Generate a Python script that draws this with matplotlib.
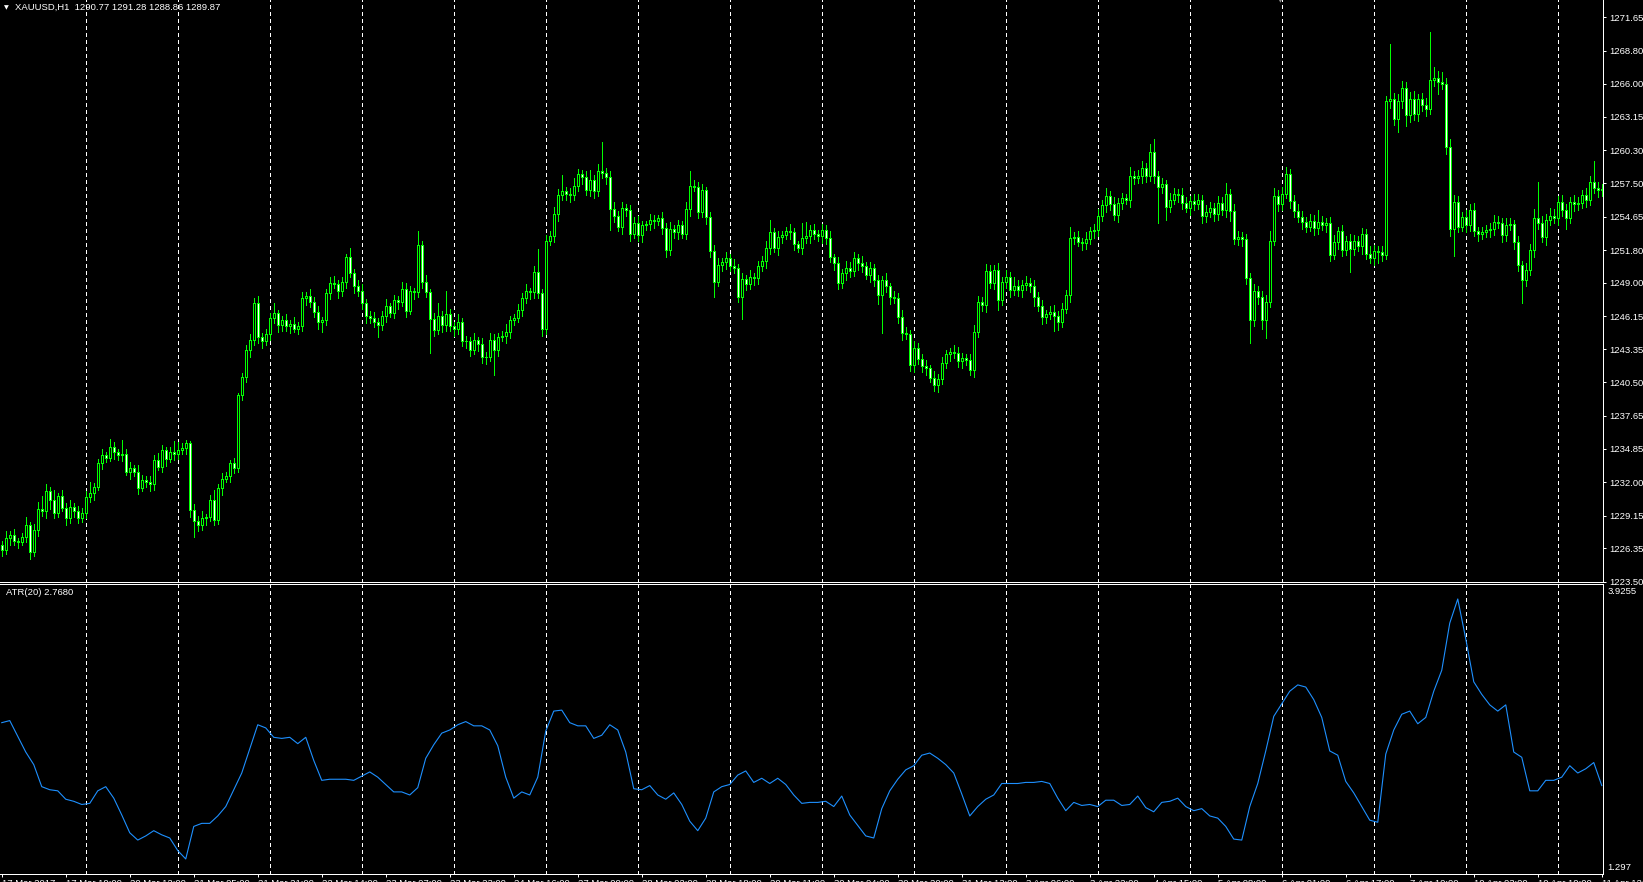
"""XAUUSD H1 ローソク足とATR(20)をMT4風に描くスクリプト"""

import numpy as np
import matplotlib
matplotlib.use("Agg")
import matplotlib.pyplot as plt

# ---終値 (1時間足, 401本)---
closes = [
    1226.2, 1227.2, 1227.5, 1227.0, 1226.9, 1227.3, 1228.3, 1226.0, 1227.9, 1229.7,
    1229.5, 1231.2, 1230.5, 1229.4, 1230.8, 1229.8, 1228.9, 1229.9, 1229.5, 1228.9,
    1229.4, 1230.7, 1231.1, 1231.6, 1233.6, 1234.3, 1234.1, 1235.0, 1234.6, 1234.3,
    1234.4, 1232.9, 1233.2, 1232.9, 1231.5, 1232.2, 1232.0, 1231.8, 1233.9, 1233.3,
    1234.7, 1234.0, 1234.6, 1234.4, 1234.7, 1234.9, 1235.3, 1229.6, 1228.7, 1228.3,
    1228.9, 1229.0, 1230.5, 1228.8, 1231.5, 1232.3, 1232.5, 1233.6, 1233.2, 1239.4,
    1241.0, 1243.3, 1244.1, 1247.3, 1244.4, 1244.0, 1244.6, 1246.0, 1246.4, 1245.4,
    1245.8, 1245.3, 1245.5, 1245.1, 1245.3, 1247.7, 1247.9, 1247.4, 1246.5, 1245.7,
    1245.8, 1248.1, 1249.0, 1248.9, 1248.3, 1249.1, 1251.2, 1249.8, 1248.7, 1248.3,
    1247.3, 1246.2, 1246.0, 1245.7, 1245.4, 1246.2, 1247.0, 1246.4, 1247.5, 1247.4,
    1248.5, 1246.6, 1248.3, 1248.2, 1252.2, 1249.1, 1248.2, 1245.9, 1245.0, 1246.2,
    1245.4, 1246.3, 1245.3, 1245.1, 1245.7, 1244.0, 1244.0, 1243.3, 1244.1, 1243.8,
    1242.7, 1242.7, 1244.1, 1243.3, 1244.4, 1244.5, 1244.8, 1245.8, 1246.0, 1246.7,
    1247.7, 1248.3, 1248.2, 1249.9, 1248.1, 1245.1, 1252.6, 1253.0, 1254.9, 1256.5,
    1256.8, 1256.6, 1256.5, 1257.3, 1258.3, 1258.0, 1256.9, 1257.8, 1256.8, 1258.5,
    1258.4, 1258.0, 1255.3, 1254.7, 1253.8, 1255.4, 1255.2, 1253.2, 1254.1, 1253.1,
    1253.9, 1254.0, 1254.4, 1254.3, 1254.5, 1253.7, 1251.8, 1253.6, 1253.3, 1253.9,
    1253.2, 1255.3, 1257.3, 1257.2, 1255.0, 1256.9, 1254.6, 1251.7, 1249.1, 1250.5,
    1250.8, 1251.1, 1250.4, 1250.3, 1247.8, 1249.3, 1248.9, 1249.5, 1249.4, 1250.4,
    1250.9, 1252.0, 1253.3, 1252.0, 1252.9, 1253.1, 1253.4, 1253.3, 1252.3, 1252.0,
    1252.8, 1253.0, 1253.5, 1253.2, 1253.0, 1253.5, 1252.8, 1251.2, 1250.7, 1249.0,
    1249.8, 1250.3, 1250.0, 1251.1, 1250.7, 1250.4, 1249.7, 1250.3, 1249.2, 1248.0,
    1249.2, 1248.7, 1247.8, 1247.7, 1246.1, 1244.7, 1244.6, 1242.0, 1243.4, 1242.5,
    1241.9, 1241.7, 1240.9, 1240.3, 1240.8, 1242.2, 1242.9, 1243.1, 1243.0, 1242.3,
    1242.6, 1242.4, 1241.6, 1244.8, 1247.4, 1247.1, 1250.0, 1249.0, 1250.1, 1247.5,
    1249.1, 1249.5, 1248.4, 1248.7, 1248.4, 1248.8, 1249.0, 1248.7, 1247.8, 1247.0,
    1246.1, 1246.3, 1246.5, 1246.2, 1245.7, 1246.8, 1248.0, 1252.8, 1252.9, 1252.5,
    1252.4, 1252.7, 1253.4, 1253.5, 1254.7, 1255.6, 1256.4, 1255.7, 1254.8, 1255.8,
    1256.2, 1256.1, 1258.1, 1257.9, 1258.1, 1258.8, 1258.1, 1260.2, 1258.1, 1257.2,
    1257.4, 1255.5, 1256.1, 1256.6, 1256.5, 1255.8, 1255.4, 1256.0, 1255.7, 1256.1,
    1254.7, 1255.0, 1255.4, 1254.9, 1255.8, 1255.2, 1256.6, 1255.1, 1252.7, 1252.9,
    1252.7, 1249.4, 1245.8, 1248.3, 1247.8, 1245.8, 1247.4, 1252.6, 1256.4, 1255.7,
    1256.6, 1258.3, 1256.0, 1255.1, 1254.6, 1254.2, 1253.8, 1254.3, 1253.7, 1254.2,
    1253.9, 1254.1, 1251.4, 1252.5, 1253.4, 1251.8, 1252.6, 1251.9, 1252.6, 1252.1,
    1253.2, 1251.5, 1251.1, 1251.7, 1251.6, 1251.4, 1264.5, 1264.7, 1263.0, 1264.5,
    1265.6, 1263.3, 1264.7, 1263.4, 1264.7, 1264.2, 1263.8, 1266.3, 1266.5, 1266.1,
    1266.0, 1260.6, 1253.6, 1255.9, 1253.8, 1254.6, 1253.9, 1255.2, 1253.4, 1253.2,
    1253.3, 1253.5, 1253.6, 1254.2, 1254.1, 1253.1, 1253.9, 1254.0, 1252.5, 1250.5,
    1249.2, 1250.1, 1251.8, 1254.5, 1254.1, 1252.9, 1254.4, 1254.7, 1254.5, 1255.9,
    1255.2, 1254.5, 1255.9, 1255.7, 1255.8, 1256.5, 1256.1, 1257.6, 1257.1, 1256.9,
    1257.0,
]
first_open = 1226.6

# ---上ヒゲ・下ヒゲの長さ---
upper_wick = [
    0.4, 0.6, 0.3, 0.5, 0.2, 0.4, 0.7, 0.3, 0.5, 0.6, 1.1, 0.6, 0.4, 0.8, 0.3, 0.5, 0.4, 0.6, 0.3, 0.5,
    0.4, 0.5, 0.9, 0.3, 0.4, 0.5, 0.3, 0.7, 0.4, 0.2, 1.2, 0.4, 0.5, 0.3, 0.6, 0.4, 0.3, 0.5, 0.4, 0.6,
    0.5, 0.3, 0.4, 0.9, 0.7, 0.4, 0.3, 0.2, 0.5, 0.4, 0.6, 0.3, 0.4, 0.8, 0.3, 0.5, 0.4, 0.3, 0.5, 0.2,
    0.3, 0.4, 0.5, 0.4, 0.6, 0.3, 0.5, 0.4, 0.9, 0.3, 0.4, 0.5, 0.3, 0.6, 0.4, 0.5, 0.3, 0.6, 0.4, 0.5,
    0.3, 0.4, 0.5, 0.6, 0.3, 0.4, 0.3, 0.8, 0.4, 0.5, 0.6, 0.3, 0.4, 0.5, 0.3, 0.4, 0.6, 0.3, 0.5, 0.4,
    0.6, 0.5, 0.4, 0.3, 1.2, 0.4, 0.6, 0.3, 0.5, 1.1, 0.4, 2.0, 0.5, 0.4, 0.6, 0.3, 0.5, 0.4, 0.6, 0.3,
    0.5, 0.4, 0.6, 0.5, 0.3, 0.4, 0.7, 0.4, 0.3, 0.5, 0.4, 0.6, 0.3, 0.5, 2.0, 0.4, 0.5, 0.4, 0.6, 0.5,
    1.4, 0.4, 0.5, 0.6, 0.4, 0.3, 0.5, 0.8, 0.4, 0.6, 2.5, 0.4, 0.5, 0.6, 0.4, 0.5, 0.3, 0.4, 0.5, 0.6,
    0.4, 0.3, 0.5, 0.4, 0.3, 0.5, 0.4, 0.6, 0.3, 0.5, 0.4, 0.6, 1.2, 0.5, 0.4, 0.5, 0.3, 0.4, 0.5, 0.6,
    0.3, 0.5, 0.4, 0.6, 0.3, 0.5, 0.4, 0.6, 0.3, 0.5, 0.4, 0.6, 1.1, 0.4, 0.5, 0.3, 0.4, 0.6, 0.4, 0.3,
    1.3, 1.2, 0.4, 0.5, 0.3, 0.5, 0.4, 0.6, 0.3, 0.5, 0.4, 0.6, 0.5, 0.5, 0.4, 0.6, 0.4, 0.5, 0.3, 0.5,
    0.4, 0.6, 0.3, 0.5, 0.4, 0.6, 0.5, 0.4, 0.6, 0.5, 0.4, 0.5, 0.3, 0.6, 0.4, 0.5, 0.4, 0.3, 0.6, 0.5,
    0.4, 0.3, 0.5, 0.6, 0.5, 0.4, 0.6, 0.5, 0.4, 0.6, 0.4, 0.6, 0.4, 0.8, 0.5, 0.4, 0.6, 0.4, 0.5, 0.4,
    0.5, 0.4, 0.5, 0.6, 0.4, 0.5, 0.4, 1.0, 0.4, 0.5, 0.3, 0.6, 0.4, 0.5, 0.6, 0.5, 0.7, 0.4, 0.6, 0.4,
    0.5, 0.4, 0.8, 0.4, 0.5, 0.6, 0.4, 0.6, 1.1, 0.4, 0.5, 0.4, 0.6, 0.5, 0.4, 0.6, 0.5, 0.4, 0.6, 0.5,
    0.4, 0.6, 0.5, 0.4, 0.6, 0.5, 0.9, 0.4, 0.6, 0.5, 0.4, 0.5, 0.4, 0.6, 0.4, 0.5, 0.6, 0.8, 0.7, 0.5,
    0.6, 0.6, 0.4, 0.5, 0.6, 0.5, 0.4, 0.6, 0.5, 1.0, 0.5, 0.4, 0.5, 0.6, 0.4, 0.5, 0.4, 0.6, 0.5, 0.4,
    0.5, 0.4, 0.6, 0.5, 0.4, 0.5, 0.4, 4.7, 0.5, 0.6, 0.6, 0.5, 0.6, 0.7, 0.4, 0.5, 0.6, 4.1, 0.9, 0.6,
    0.9, 0.5, 0.7, 0.6, 0.5, 0.4, 0.6, 0.5, 0.6, 0.4, 0.5, 0.4, 0.5, 0.6, 0.5, 0.4, 0.6, 0.5, 0.4, 0.5,
    0.4, 0.6, 0.5, 0.8, 3.1, 0.6, 0.5, 0.7, 0.6, 0.5, 0.6, 0.5, 0.4, 0.6, 0.5, 0.4, 0.6, 0.5, 1.8, 0.5,
    0.4,
]
lower_wick = [
    0.5, 0.3, 0.6, 0.4, 0.5, 0.3, 0.4, 0.6, 0.3, 0.5, 0.4, 0.6, 0.8, 0.5, 0.4, 0.3, 0.6, 0.4, 0.5, 0.4,
    0.3, 0.5, 0.4, 0.6, 0.3, 0.5, 0.4, 0.3, 0.6, 0.4, 0.5, 0.3, 0.6, 0.4, 0.5, 0.3, 0.4, 0.6, 0.5, 0.3,
    0.4, 0.6, 0.3, 0.5, 0.4, 0.3, 0.5, 0.6, 1.4, 0.5, 0.4, 0.6, 0.3, 0.5, 0.4, 0.6, 0.3, 0.5, 0.4, 0.3,
    0.4, 0.5, 0.6, 0.4, 0.5, 0.6, 0.3, 0.5, 0.4, 0.6, 0.5, 0.4, 0.6, 0.3, 0.5, 0.4, 0.6, 0.5, 0.4, 0.6,
    0.9, 0.4, 0.5, 0.3, 0.6, 0.4, 0.5, 0.3, 0.6, 0.4, 0.5, 0.6, 0.4, 0.5, 1.0, 0.4, 0.5, 0.3, 0.4, 0.6,
    0.4, 0.5, 0.3, 0.6, 0.4, 0.5, 0.4, 2.9, 0.5, 0.4, 0.6, 0.5, 0.4, 0.6, 0.5, 0.4, 0.6, 0.5, 0.4, 0.6,
    0.5, 0.6, 0.4, 2.2, 0.5, 0.4, 0.6, 0.5, 0.4, 0.3, 0.5, 0.4, 0.6, 0.5, 0.4, 0.6, 0.5, 0.4, 0.5, 0.6,
    0.4, 0.5, 0.6, 0.4, 0.5, 0.6, 0.4, 0.5, 0.6, 0.4, 0.5, 0.6, 1.8, 0.5, 0.4, 0.6, 0.5, 0.6, 0.4, 0.5,
    0.6, 0.4, 0.5, 0.6, 0.4, 0.5, 0.6, 0.4, 0.5, 0.6, 0.4, 0.5, 0.6, 0.4, 0.5, 0.4, 0.6, 0.5, 1.3, 0.4,
    0.5, 0.6, 0.4, 0.5, 0.4, 1.9, 0.5, 0.4, 0.6, 0.5, 0.4, 0.6, 0.5, 0.4, 0.6, 0.5, 0.4, 0.6, 0.5, 0.4,
    0.5, 0.4, 0.6, 0.5, 0.4, 0.6, 0.5, 0.4, 0.6, 0.5, 0.4, 0.6, 0.5, 0.4, 0.6, 0.5, 0.4, 0.6, 0.5, 0.8,
    3.3, 0.5, 0.6, 0.4, 0.5, 0.6, 0.4, 0.5, 0.6, 0.4, 0.5, 0.6, 0.4, 0.5, 0.6, 0.4, 0.5, 0.6, 0.4, 0.5,
    0.6, 0.4, 0.5, 0.6, 0.4, 0.5, 0.6, 0.4, 0.5, 0.8, 0.4, 0.5, 0.6, 0.4, 0.5, 0.6, 0.4, 0.5, 0.8, 0.4,
    0.6, 0.5, 0.4, 1.3, 0.7, 0.5, 0.4, 0.6, 0.5, 0.4, 0.6, 0.5, 0.4, 0.6, 0.5, 0.4, 0.6, 0.5, 0.4, 0.6,
    0.5, 0.4, 0.6, 0.5, 0.4, 0.6, 0.5, 0.4, 0.6, 3.1, 0.5, 1.1, 0.5, 0.4, 0.6, 0.5, 0.4, 0.6, 0.5, 0.4,
    0.6, 0.5, 0.4, 0.6, 0.5, 0.4, 0.6, 0.8, 0.4, 0.5, 0.6, 0.5, 1.9, 0.5, 0.6, 0.7, 1.5, 0.5, 0.4, 0.6,
    0.5, 0.4, 0.6, 0.5, 0.4, 0.6, 0.5, 0.4, 0.6, 0.5, 0.4, 0.6, 0.5, 0.4, 0.6, 0.5, 0.4, 2.0, 0.5, 0.4,
    0.6, 0.5, 0.4, 0.6, 0.9, 0.5, 0.4, 0.6, 0.5, 1.1, 0.6, 0.9, 0.6, 0.5, 0.6, 0.5, 0.6, 0.4, 0.5, 1.0,
    0.5, 0.6, 0.6, 2.3, 0.5, 0.4, 0.6, 0.5, 0.4, 0.6, 0.5, 0.4, 0.6, 0.5, 0.4, 0.6, 0.5, 0.4, 0.6, 0.5,
    1.9, 0.5, 0.4, 0.6, 0.5, 0.4, 0.7, 0.5, 0.4, 0.6, 0.5, 0.9, 0.4, 0.6, 0.5, 0.4, 0.6, 0.5, 0.4, 0.6,
    0.5,
]

# ---ATR(20) 2本おき---
atr_values = [
    2.675, 2.696, 2.537, 2.378, 2.251, 2.028, 1.997, 1.986, 1.901, 1.880,
    1.848, 1.859, 1.986, 2.028, 1.912, 1.742, 1.562, 1.488, 1.530, 1.583,
    1.541, 1.509, 1.382, 1.297, 1.626, 1.657, 1.657, 1.732, 1.827, 1.997,
    2.166, 2.410, 2.654, 2.622, 2.527, 2.516, 2.527, 2.463, 2.527, 2.293,
    2.092, 2.103, 2.103, 2.103, 2.092, 2.134, 2.177, 2.124, 2.050, 1.975,
    1.975, 1.944, 2.018, 2.315, 2.452, 2.569, 2.601, 2.654, 2.686, 2.643,
    2.643, 2.601, 2.442, 2.124, 1.912, 1.975, 1.944, 2.124, 2.590, 2.792,
    2.802, 2.675, 2.643, 2.643, 2.516, 2.548, 2.654, 2.601, 2.378, 2.007,
    1.997, 2.039, 1.944, 1.901, 1.965, 1.848, 1.679, 1.583, 1.710, 1.975,
    2.028, 2.050, 2.145, 2.187, 2.071, 2.113, 2.060, 2.113, 2.050, 1.944,
    1.859, 1.869, 1.869, 1.880, 1.827, 1.933, 1.742, 1.636, 1.530, 1.509,
    1.806, 1.986, 2.103, 2.198, 2.240, 2.346, 2.368, 2.315, 2.251, 2.166,
    1.954, 1.732, 1.827, 1.901, 1.944, 2.060, 2.060, 2.060, 2.071, 2.071,
    2.081, 2.060, 1.912, 1.785, 1.869, 1.838, 1.848, 1.827, 1.891, 1.891,
    1.838, 1.848, 1.933, 1.816, 1.774, 1.869, 1.880, 1.912, 1.827, 1.785,
    1.806, 1.732, 1.710, 1.626, 1.498, 1.488, 1.827, 2.060, 2.389, 2.739,
    2.866, 2.993, 3.057, 3.035, 2.908, 2.728, 2.389, 2.346, 2.081, 1.965,
    1.827, 1.689, 1.668, 2.357, 2.601, 2.760, 2.792, 2.664, 2.728, 2.993,
    3.205, 3.682, 3.9255, 3.523, 3.088, 2.961, 2.855, 2.792, 2.855, 2.378,
    2.325, 1.986, 1.986, 2.092, 2.092, 2.124, 2.240, 2.166, 2.209, 2.272,
    2.039,
]
atr_bars = list(range(0, 401, 2))

price_ticks = [1271.65, 1268.80, 1266.00, 1263.15, 1260.30, 1257.50, 1254.65, 1251.80, 1249.00,
               1246.15, 1243.35, 1240.50, 1237.65, 1234.85, 1232.00, 1229.15, 1226.35, 1223.50]
time_labels = ["17 Mar 2017", "17 Mar 19:00", "20 Mar 12:00", "21 Mar 05:00", "21 Mar 21:00",
               "22 Mar 14:00", "23 Mar 07:00", "23 Mar 23:00", "24 Mar 16:00", "27 Mar 09:00",
               "28 Mar 02:00", "28 Mar 18:00", "29 Mar 11:00", "30 Mar 04:00", "30 Mar 20:00",
               "31 Mar 13:00", "3 Apr 06:00", "3 Apr 22:00", "4 Apr 15:00", "5 Apr 08:00",
               "6 Apr 01:00", "6 Apr 17:00", "7 Apr 10:00", "10 Apr 03:00", "10 Apr 19:00",
               "11 Apr 12:00"]
time_tick_bars = list(range(0, 401, 16))

assert len(upper_wick) == len(closes) == len(lower_wick)
assert len(atr_values) == len(atr_bars)

W, H = 1643, 882
LIME = "#00ff00"
FONT = "Liberation Sans"
PX = 0.72  # 1px in pt

c = np.array(closes)
o = np.array([first_open] + closes[:-1])
hi = np.maximum(o, c) + np.array(upper_wick)
lo = np.minimum(o, c) - np.array(lower_wick)
bars = np.arange(len(c))

fig = plt.figure(figsize=(W / 100, H / 100), dpi=100, facecolor="black")
ax1 = fig.add_axes([0, 1 - 582 / H, 1603 / W, 582 / H], facecolor="black")
ax2 = fig.add_axes([0, 1 - 874 / H, 1603 / W, 290 / H], facecolor="black")

xlim = (-0.4375, 400.31)
for ax in (ax1, ax2):
    ax.set_xlim(*xlim)
    for s in ax.spines.values():
        s.set_color("white")
        s.set_linewidth(PX)
    ax.spines["left"].set_visible(False)
    """---縦の点線グリッド---"""
    for g in np.arange(20.94, 400, 23):
        ax.axvline(g, color="white", lw=PX, ls=(0, (4, 3)), zorder=0, antialiased=False)

ax1.spines["top"].set_visible(False)
ax1.set_ylim(1223.48, 1273.126)
ax2.set_ylim(1.145, 4.077)

"""---ローソク足---"""
ax1.vlines(bars, lo, hi, colors=LIME, lw=PX, antialiased=False, zorder=2)
up = c >= o
ax1.bar(bars[up], (c - o)[up], bottom=o[up], width=0.5, facecolor="black",
        edgecolor=LIME, lw=PX, antialiased=False, zorder=3)
ax1.bar(bars[~up], (c - o)[~up], bottom=o[~up], width=0.5, facecolor="white",
        edgecolor=LIME, lw=PX, antialiased=False, zorder=3)

ax1.yaxis.tick_right()
ax1.set_yticks(price_ticks)
ax1.set_yticklabels([f"{p:.2f}" for p in price_ticks])
ax1.tick_params(axis="y", colors="white", length=3 * PX, width=PX, pad=3 * PX,
                labelsize=6.8, labelfontfamily=FONT)
ax1.set_xticks([])

"""---ATR---"""
ax2.plot(atr_bars, atr_values, color="#1e90ff", lw=0.8)
ax2.set_yticks([])
ax2.set_xticks(time_tick_bars)
ax2.set_xticklabels(time_labels, ha="left")
ax2.tick_params(axis="x", colors="white", length=3 * PX, width=PX, pad=2 * PX,
                labelsize=6.8, labelfontfamily=FONT)

"""---テキスト---"""
fig.text(4 / W, 1 - 8 / H, "\u25bc", color="white", fontsize=4.5, va="center",
         family="DejaVu Sans")
fig.text(15 / W, 1 - 7.5 / H, "XAUUSD,H1  1290.77 1291.28 1288.86 1289.87", color="white",
         fontsize=6.8, va="center", family=FONT)
fig.text(6 / W, 1 - 592.5 / H, "ATR(20) 2.7680", color="white", fontsize=6.8,
         va="center", family=FONT)
fig.text(1608 / W, 1 - 591 / H, "3.9255", color="white", fontsize=6.8, va="center", family=FONT)
fig.text(1607 / W, 1 - 867 / H, "1.297", color="white", fontsize=6.8, va="center", family=FONT)
fig.text(1280 / W, 1 - 1 / H, "\u25bc", color="#8c8c8c", fontsize=4.5, ha="center", va="center",
         family="DejaVu Sans")

fig.savefig("out.png", dpi=100, facecolor="black")
